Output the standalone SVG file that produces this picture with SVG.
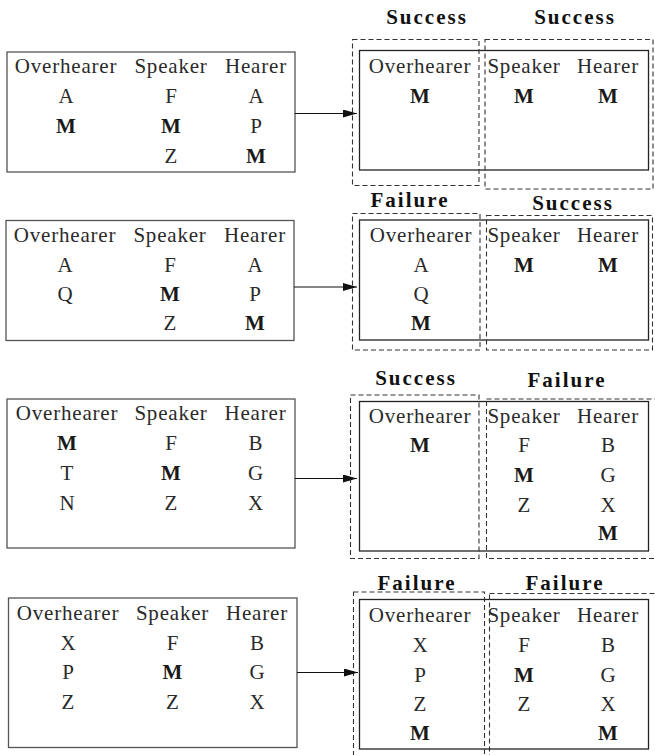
<svg xmlns="http://www.w3.org/2000/svg" width="655" height="755" viewBox="0 0 655 755">
<style>
text{font-family:"Liberation Serif","Times New Roman",serif;font-size:21px;fill:#2a2a2a;text-anchor:middle}
.h{letter-spacing:0.8px}
.b{font-weight:bold;fill:#1a1a1a}
.lbl{font-weight:bold;letter-spacing:2px;fill:#111}
.box{fill:none;stroke:#555;stroke-width:1.3}
.obox{fill:none;stroke:#222;stroke-width:1.3}
.dash{fill:none;stroke:#333;stroke-width:1.1;stroke-dasharray:5,3}
.conn{stroke:#111;stroke-width:1.2;fill:none}
</style>
<defs>
<marker id="arr" viewBox="0 0 14 8" refX="14" refY="4" markerWidth="14" markerHeight="8" markerUnits="userSpaceOnUse" orient="auto">
<path d="M0,0 L14,4 L0,8 Z" fill="#111"/>
</marker>
</defs>

<!-- Row 1 -->
<g id="in1">
<rect class="box" x="7" y="52" width="288" height="120"/>
<text class="h" x="66" y="73">Overhearer</text><text class="h" x="171" y="73">Speaker</text><text class="h" x="256" y="73">Hearer</text>
<text x="66" y="103">A</text><text x="171" y="103">F</text><text x="256" y="103">A</text>
<text class="b" x="66" y="133">M</text><text class="b" x="171" y="133">M</text><text x="256" y="133">P</text>
<text x="171" y="163">Z</text><text class="b" x="256" y="163">M</text>
</g>
<g id="out1">
<rect class="obox" x="359.5" y="50.5" width="289" height="119.5"/>
<text class="h" x="420" y="73">Overhearer</text><text class="h" x="524" y="73">Speaker</text><text class="h" x="608" y="73">Hearer</text>
<text class="b" x="420" y="103">M</text><text class="b" x="524" y="103">M</text><text class="b" x="608" y="103">M</text>
</g>
<g id="grp1a"><rect class="dash" x="352.5" y="39.5" width="126.5" height="146"/><text class="lbl" x="427" y="24">Success</text></g>
<g id="grp1b"><rect class="dash" x="485" y="39.5" width="168" height="149.5"/><text class="lbl" x="575" y="24">Success</text></g>

<!-- Row 2 -->
<g id="in2">
<rect class="box" x="6" y="220.5" width="288" height="120"/>
<text class="h" x="65" y="242">Overhearer</text><text class="h" x="170" y="242">Speaker</text><text class="h" x="255" y="242">Hearer</text>
<text x="65" y="272">A</text><text x="170" y="272">F</text><text x="255" y="272">A</text>
<text x="65" y="301">Q</text><text class="b" x="170" y="301">M</text><text x="255" y="301">P</text>
<text x="170" y="330">Z</text><text class="b" x="255" y="330">M</text>
</g>
<g id="out2">
<rect class="obox" x="359.5" y="220" width="289" height="120"/>
<text class="h" x="421" y="242">Overhearer</text><text class="h" x="524" y="242">Speaker</text><text class="h" x="608" y="242">Hearer</text>
<text x="421" y="272">A</text><text class="b" x="524" y="272">M</text><text class="b" x="608" y="272">M</text>
<text x="421" y="301">Q</text>
<text class="b" x="421" y="330">M</text>
</g>
<g id="grp2a"><rect class="dash" x="352.5" y="213.5" width="127.5" height="136.5"/><text class="lbl" x="410" y="207">Failure</text></g>
<g id="grp2b"><rect class="dash" x="486.5" y="215.5" width="166" height="134.5"/><text class="lbl" x="573" y="210">Success</text></g>

<!-- Row 3 -->
<g id="in3">
<rect class="box" x="7" y="399" width="288" height="149"/>
<text class="h" x="67" y="420">Overhearer</text><text class="h" x="171" y="420">Speaker</text><text class="h" x="255.5" y="420">Hearer</text>
<text class="b" x="67" y="450">M</text><text x="171" y="450">F</text><text x="255.5" y="450">B</text>
<text x="67" y="480">T</text><text class="b" x="171" y="480">M</text><text x="255.5" y="480">G</text>
<text x="67" y="509.5">N</text><text x="171" y="509.5">Z</text><text x="255.5" y="509.5">X</text>
</g>
<g id="out3">
<rect class="obox" x="359.5" y="401.5" width="289" height="149.5"/>
<text class="h" x="420" y="423">Overhearer</text><text class="h" x="524" y="423">Speaker</text><text class="h" x="608" y="423">Hearer</text>
<text class="b" x="420" y="452">M</text><text x="524" y="452">F</text><text x="608" y="452">B</text>
<text class="b" x="524" y="482">M</text><text x="608" y="482">G</text>
<text x="524" y="511.5">Z</text><text x="608" y="511.5">X</text>
<text class="b" x="608" y="540">M</text>
</g>
<g id="grp3a"><rect class="dash" x="350.5" y="395" width="128.5" height="163.5"/><text class="lbl" x="416" y="385">Success</text></g>
<g id="grp3b"><rect class="dash" x="486.5" y="399" width="172" height="159.5"/><text class="lbl" x="567" y="387">Failure</text></g>

<!-- Row 4 -->
<g id="in4">
<rect class="box" x="8.5" y="598" width="288.5" height="149.5"/>
<text class="h" x="68" y="619.5">Overhearer</text><text class="h" x="172.5" y="619.5">Speaker</text><text class="h" x="257" y="619.5">Hearer</text>
<text x="68" y="649.5">X</text><text x="172.5" y="649.5">F</text><text x="257" y="649.5">B</text>
<text x="68" y="679">P</text><text class="b" x="172.5" y="679">M</text><text x="257" y="679">G</text>
<text x="68" y="709">Z</text><text x="172.5" y="709">Z</text><text x="257" y="709">X</text>
</g>
<g id="out4">
<rect class="obox" x="359.5" y="599.5" width="289" height="149.5"/>
<text class="h" x="420" y="622">Overhearer</text><text class="h" x="524" y="622">Speaker</text><text class="h" x="608" y="622">Hearer</text>
<text x="420" y="652">X</text><text x="524" y="652">F</text><text x="608" y="652">B</text>
<text x="420" y="681.5">P</text><text class="b" x="524" y="681.5">M</text><text x="608" y="681.5">G</text>
<text x="420" y="711">Z</text><text x="524" y="711">Z</text><text x="608" y="711">X</text>
<text class="b" x="420" y="740">M</text><text class="b" x="608" y="740">M</text>
</g>
<g id="grp4a"><rect class="dash" x="353.5" y="592" width="131" height="175"/><text class="lbl" x="417" y="590">Failure</text></g>
<g id="grp4b"><rect class="dash" x="489.5" y="593.5" width="172" height="175"/><text class="lbl" x="565" y="590">Failure</text></g>

<g id="connectors">
<line class="conn" x1="295" y1="113.5" x2="357" y2="113.5" marker-end="url(#arr)"/>
<line class="conn" x1="294" y1="287" x2="357" y2="287" marker-end="url(#arr)"/>
<line class="conn" x1="295" y1="478.5" x2="357" y2="478.5" marker-end="url(#arr)"/>
<line class="conn" x1="297" y1="672.5" x2="358" y2="672.5" marker-end="url(#arr)"/>
</g>
</svg>
